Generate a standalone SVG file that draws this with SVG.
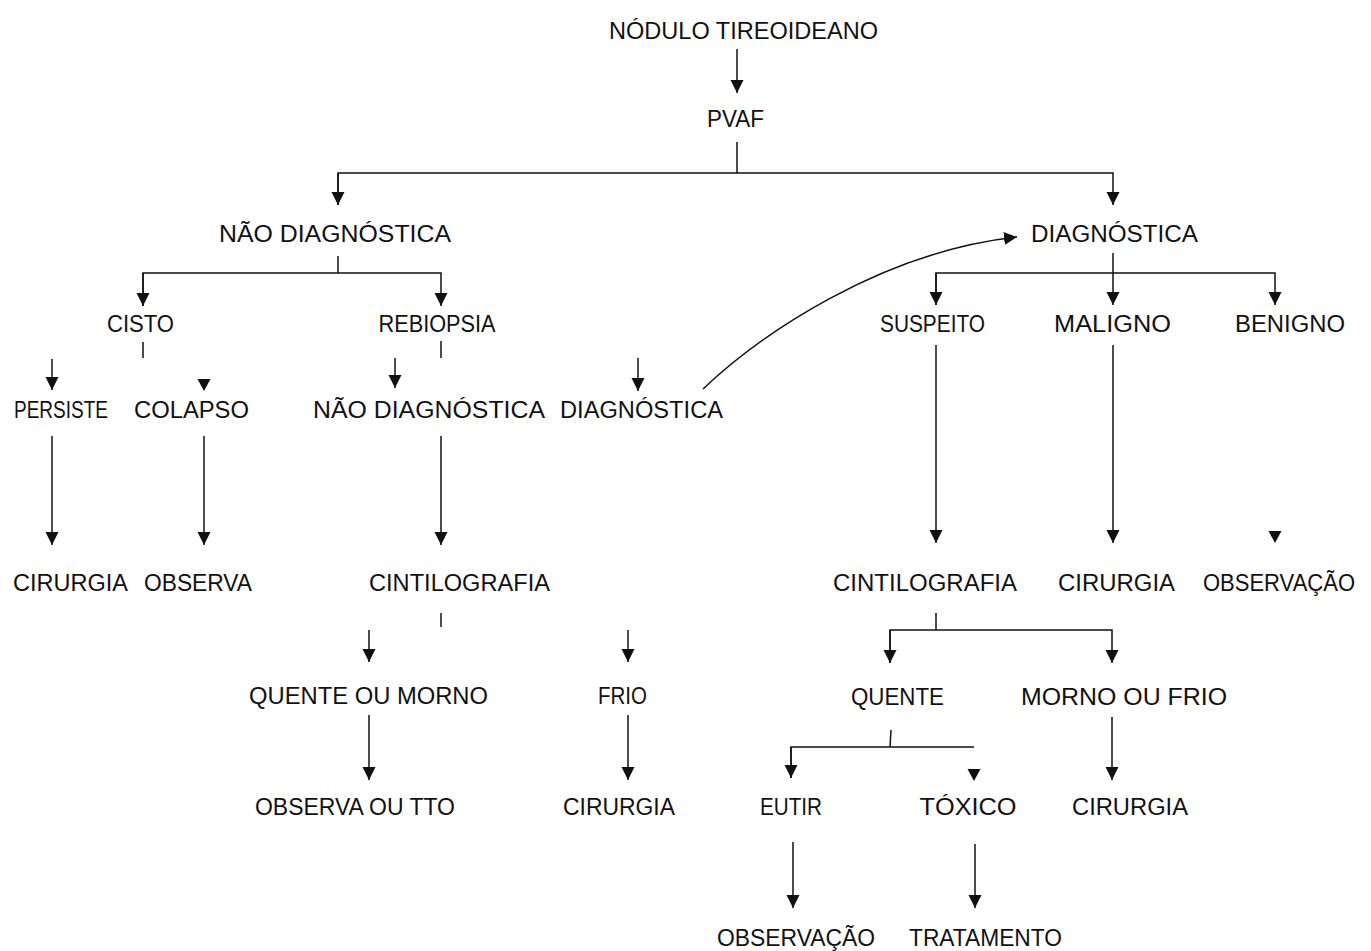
<svg xmlns="http://www.w3.org/2000/svg" width="1371" height="951" viewBox="0 0 1371 951">
<style>
text{font-family:"Liberation Sans",Arial,sans-serif;font-size:23px;fill:#111;text-anchor:middle}
.c line,.c path,.c polyline{stroke:#111;stroke-width:1.5;fill:none}
.h{fill:#111;stroke:none}
</style>
<defs>
<marker id="a" markerUnits="userSpaceOnUse" markerWidth="14" markerHeight="14" refX="13" refY="6.5" orient="auto">
<path d="M0,0 L13,6.5 L0,13 z" fill="#111"/>
</marker>
</defs>
<rect width="1371" height="951" fill="#fff"/>
<g class="c" id="connectors">
<line x1="737" y1="49" x2="737" y2="93" marker-end="url(#a)"/>
<line x1="737" y1="142" x2="737" y2="173"/>
<polyline points="338,205 338,173 1113,173 1113,205" marker-end="url(#a)"/>
<line x1="338" y1="173" x2="338" y2="205" marker-end="url(#a)"/>
<line x1="338" y1="256" x2="338" y2="273"/>
<polyline points="143,306 143,273 441,273 441,306" marker-end="url(#a)"/>
<line x1="143" y1="273" x2="143" y2="306" marker-end="url(#a)"/>
<line x1="1113" y1="253" x2="1113" y2="305" marker-end="url(#a)"/>
<polyline points="936,305 936,273 1275,273 1275,305" marker-end="url(#a)"/>
<line x1="936" y1="273" x2="936" y2="305" marker-end="url(#a)"/>
<path d="M703,389 C760,335 880,252 1017,237" marker-end="url(#a)"/>
<line x1="143" y1="342" x2="143" y2="358"/>
<line x1="52" y1="359" x2="52" y2="390" marker-end="url(#a)"/>
<polygon class="h" points="197.5,379 210.5,379 204,391"/>
<line x1="441" y1="341" x2="441" y2="358"/>
<line x1="395" y1="358" x2="395" y2="388" marker-end="url(#a)"/>
<line x1="638" y1="358" x2="638" y2="391" marker-end="url(#a)"/>
<line x1="52" y1="436" x2="52" y2="545" marker-end="url(#a)"/>
<line x1="204" y1="436" x2="204" y2="545" marker-end="url(#a)"/>
<line x1="441" y1="436" x2="441" y2="545" marker-end="url(#a)"/>
<line x1="936" y1="345" x2="936" y2="543" marker-end="url(#a)"/>
<line x1="1113" y1="345" x2="1113" y2="543" marker-end="url(#a)"/>
<polygon class="h" points="1268.5,531 1281.5,531 1275,543"/>
<line x1="441" y1="613" x2="441" y2="627"/>
<line x1="369" y1="630" x2="369" y2="662" marker-end="url(#a)"/>
<line x1="628" y1="630" x2="628" y2="662" marker-end="url(#a)"/>
<line x1="369" y1="715" x2="369" y2="780" marker-end="url(#a)"/>
<line x1="628" y1="715" x2="628" y2="780" marker-end="url(#a)"/>
<line x1="936" y1="613" x2="936" y2="630"/>
<polyline points="890,663 890,630 1112,630 1112,663" marker-end="url(#a)"/>
<line x1="890" y1="630" x2="890" y2="663" marker-end="url(#a)"/>
<line x1="1112" y1="717" x2="1112" y2="780" marker-end="url(#a)"/>
<line x1="891" y1="730" x2="890" y2="747"/>
<polyline points="791,778 791,747 974,747"/>
<line x1="791" y1="747" x2="791" y2="778" marker-end="url(#a)"/>
<polygon class="h" points="967.5,769 980.5,769 974,781"/>
<line x1="793" y1="842" x2="793" y2="908" marker-end="url(#a)"/>
<line x1="975" y1="844" x2="975" y2="908" marker-end="url(#a)"/>
</g>
<g id="n-nodulo"><text x="743.5" y="39" textLength="269" lengthAdjust="spacingAndGlyphs">NÓDULO TIREOIDEANO</text></g>
<g id="n-pvaf"><text x="735.5" y="127" textLength="57" lengthAdjust="spacingAndGlyphs">PVAF</text></g>
<g id="n-naodiag"><text x="335" y="242" textLength="232" lengthAdjust="spacingAndGlyphs">NÃO DIAGNÓSTICA</text></g>
<g id="n-diag"><text x="1114.5" y="242" textLength="167" lengthAdjust="spacingAndGlyphs">DIAGNÓSTICA</text></g>
<g id="n-cisto"><text x="140.5" y="332" textLength="67" lengthAdjust="spacingAndGlyphs">CISTO</text></g>
<g id="n-rebiopsia"><text x="437" y="332" textLength="117" lengthAdjust="spacingAndGlyphs">REBIOPSIA</text></g>
<g id="n-suspeito"><text x="932.5" y="332" textLength="105" lengthAdjust="spacingAndGlyphs">SUSPEITO</text></g>
<g id="n-maligno"><text x="1112.5" y="332" textLength="117" lengthAdjust="spacingAndGlyphs">MALIGNO</text></g>
<g id="n-benigno"><text x="1290" y="332" textLength="110" lengthAdjust="spacingAndGlyphs">BENIGNO</text></g>
<g id="n-persiste"><text x="61" y="418" textLength="94" lengthAdjust="spacingAndGlyphs">PERSISTE</text></g>
<g id="n-colapso"><text x="191.5" y="418" textLength="115" lengthAdjust="spacingAndGlyphs">COLAPSO</text></g>
<g id="n-naodiag2"><text x="429" y="418" textLength="232" lengthAdjust="spacingAndGlyphs">NÃO DIAGNÓSTICA</text></g>
<g id="n-diag2"><text x="641.5" y="418" textLength="163" lengthAdjust="spacingAndGlyphs">DIAGNÓSTICA</text></g>
<g id="n-cirurgia1"><text x="70.5" y="591" textLength="115" lengthAdjust="spacingAndGlyphs">CIRURGIA</text></g>
<g id="n-observa"><text x="198" y="591" textLength="108" lengthAdjust="spacingAndGlyphs">OBSERVA</text></g>
<g id="n-cint1"><text x="459.5" y="591" textLength="181" lengthAdjust="spacingAndGlyphs">CINTILOGRAFIA</text></g>
<g id="n-cint2"><text x="925" y="591" textLength="184" lengthAdjust="spacingAndGlyphs">CINTILOGRAFIA</text></g>
<g id="n-cirurgia2"><text x="1116.5" y="591" textLength="117" lengthAdjust="spacingAndGlyphs">CIRURGIA</text></g>
<g id="n-observacao1"><text x="1279" y="591" textLength="152" lengthAdjust="spacingAndGlyphs">OBSERVAÇÃO</text></g>
<g id="n-quentemorno"><text x="368.5" y="704" textLength="239" lengthAdjust="spacingAndGlyphs">QUENTE OU MORNO</text></g>
<g id="n-frio"><text x="622.5" y="704" textLength="49" lengthAdjust="spacingAndGlyphs">FRIO</text></g>
<g id="n-quente"><text x="897.5" y="705" textLength="93" lengthAdjust="spacingAndGlyphs">QUENTE</text></g>
<g id="n-mornofrio"><text x="1124" y="705" textLength="206" lengthAdjust="spacingAndGlyphs">MORNO OU FRIO</text></g>
<g id="n-observatto"><text x="355" y="815" textLength="200" lengthAdjust="spacingAndGlyphs">OBSERVA OU TTO</text></g>
<g id="n-cirurgia3"><text x="619" y="815" textLength="112" lengthAdjust="spacingAndGlyphs">CIRURGIA</text></g>
<g id="n-eutir"><text x="791" y="815" textLength="62" lengthAdjust="spacingAndGlyphs">EUTIR</text></g>
<g id="n-toxico"><text x="968" y="815" textLength="97" lengthAdjust="spacingAndGlyphs">TÓXICO</text></g>
<g id="n-cirurgia4"><text x="1130" y="815" textLength="116" lengthAdjust="spacingAndGlyphs">CIRURGIA</text></g>
<g id="n-observacao2"><text x="796" y="946" textLength="158" lengthAdjust="spacingAndGlyphs">OBSERVAÇÃO</text></g>
<g id="n-tratamento"><text x="985.5" y="946" textLength="153" lengthAdjust="spacingAndGlyphs">TRATAMENTO</text></g>
</svg>
